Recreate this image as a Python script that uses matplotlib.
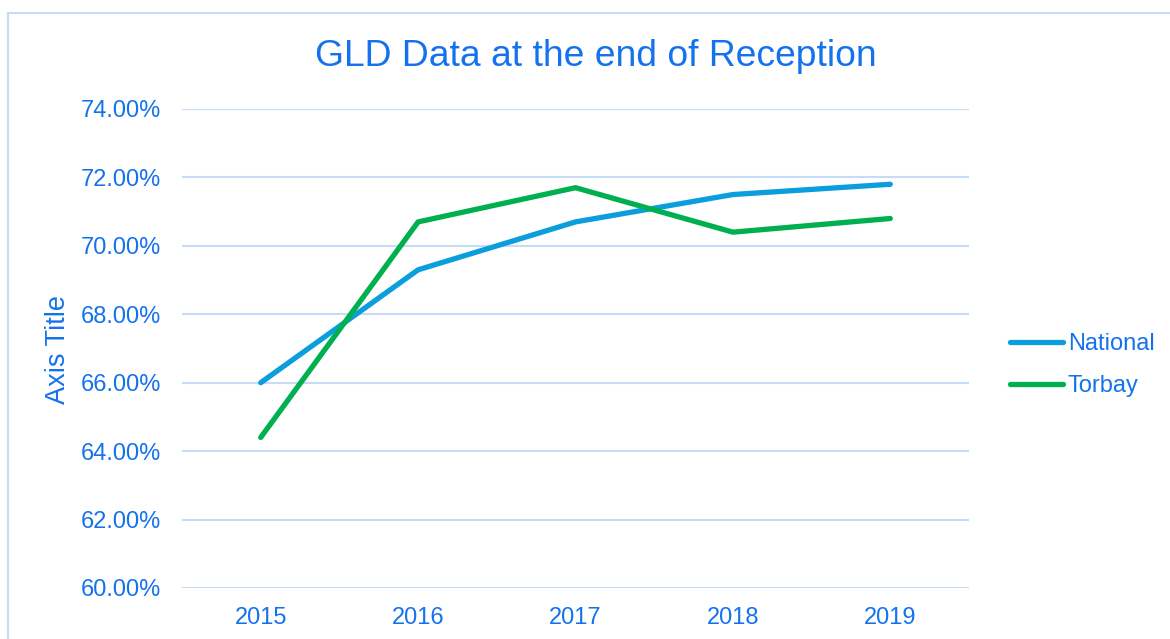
import matplotlib.pyplot as plt
from matplotlib.patches import Rectangle
from matplotlib.ticker import FuncFormatter

years = ["2015", "2016", "2017", "2018", "2019"]
national = [66.0, 69.3, 70.7, 71.5, 71.8]
torbay = [64.4, 70.7, 71.7, 70.4, 70.8]
y_ticks = [60, 62, 64, 66, 68, 70, 72, 74]

text_blue = "#1472EC"
grid_blue = "#C6DCF6"

plt.rcParams['font.family'] = ['Liberation Sans', 'DejaVu Sans']

fig = plt.figure(figsize=(11.7, 6.39), dpi=100)
ax = fig.add_axes([182 / 1170, 1 - 588 / 639, (969 - 182) / 1170, (588 - 109) / 639])

x = list(range(len(years)))
ax.plot(x, national, color="#0A9EDD", linewidth=3.8, solid_capstyle='round',
        solid_joinstyle='round', label="National", zorder=3)
ax.plot(x, torbay, color="#00B050", linewidth=3.8, solid_capstyle='round',
        solid_joinstyle='round', label="Torbay", zorder=3)

ax.set_xlim(-0.5, len(years) - 0.5)
ax.set_ylim(60, 74)
ax.set_xticks(x)
ax.set_xticklabels(years)
ax.set_yticks(y_ticks)
ax.yaxis.set_major_formatter(FuncFormatter(lambda v, p: f"{v:.2f}%"))
ax.grid(axis='y', color=grid_blue, linewidth=1.5)
ax.set_axisbelow(True)
for s in ax.spines.values():
    s.set_visible(False)
ax.tick_params(axis='both', length=0, labelsize=17, labelcolor=text_blue)
ax.tick_params(axis='y', pad=15)
ax.tick_params(axis='x', pad=14)

fig.text(596 / 1170, 1 - 57 / 639, "GLD Data at the end of Reception",
         ha='center', va='center', fontsize=26.8, color=text_blue)
fig.text(58 / 1170, 1 - 349 / 639, "Axis Title", rotation=90,
         ha='center', va='center', fontsize=19.5, color=text_blue)

leg = ax.legend(loc='center left', bbox_to_anchor=(1010 / 1170, 1 - 365 / 639),
                bbox_transform=fig.transFigure, frameon=False, fontsize=17,
                handlelength=2.25, handletextpad=0.2, labelspacing=0.85,
                borderaxespad=0, borderpad=0)
for t in leg.get_texts():
    t.set_color(text_blue)

# chart area border (runs off the right and bottom edges)
fig.patches.append(Rectangle((8 / 1170, -0.1), 1.2, 1 - 13 / 639 + 0.1,
                             transform=fig.transFigure, fill=False,
                             edgecolor=grid_blue, linewidth=1.5))

fig.savefig("out.png", dpi=100)
